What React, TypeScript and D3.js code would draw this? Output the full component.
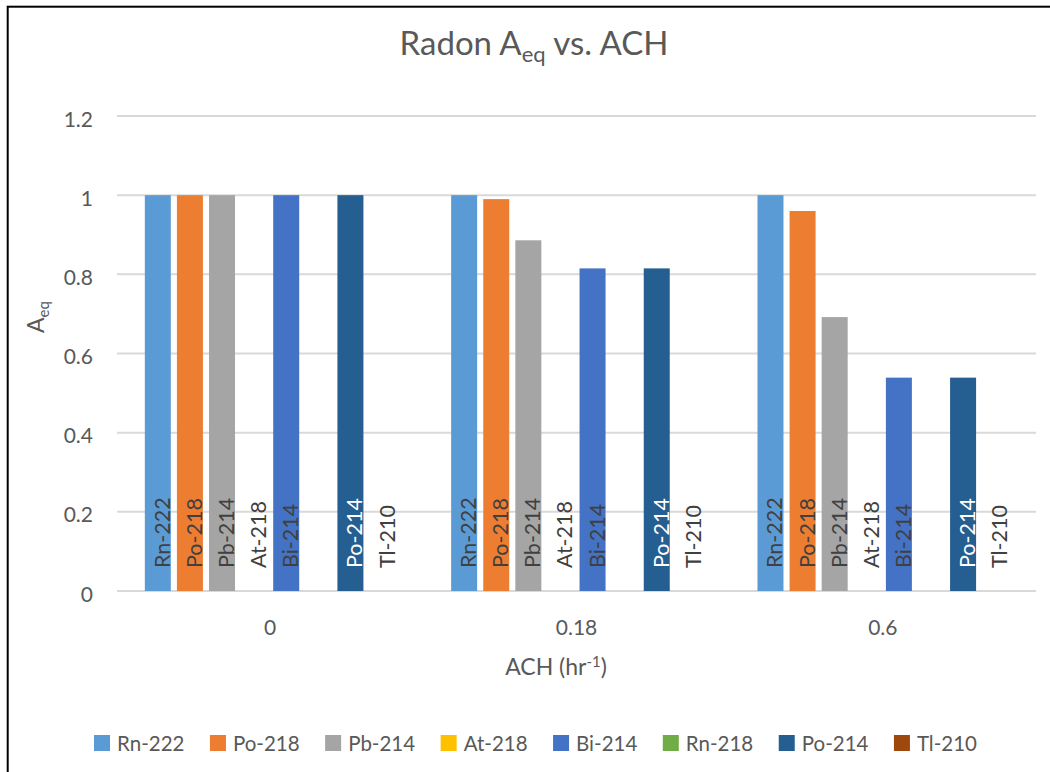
import React, { useEffect, useRef } from "react";
import * as d3 from "d3";

const categories = ["0", "0.18", "0.6"];
const seriesNames = ["Rn-222", "Po-218", "Pb-214", "At-218", "Bi-214", "Rn-218", "Po-214", "Tl-210"];
const seriesColors = ["#5B9BD5", "#ED7D31", "#A5A5A5", "#FFC000", "#4472C4", "#70AD47", "#255E91", "#9E480E"];
const rn222 = [1, 1, 1];
const po218 = [1, 0.99, 0.96];
const pb214 = [1, 0.886, 0.692];
const at218 = [0, 0, 0];
const bi214 = [1, 0.815, 0.539];
const rn218 = [0, 0, 0];
const po214 = [1, 0.815, 0.539];
const tl210 = [0, 0, 0];
const seriesValues = [rn222, po218, pb214, at218, bi214, rn218, po214, tl210];
const showLabel = [true, true, true, true, true, false, true, true];
const labelColors = ["#404040", "#404040", "#404040", "#404040", "#404040", "#404040", "#FFFFFF", "#404040"];
const yTicks = [0, 0.2, 0.4, 0.6, 0.8, 1, 1.2];

const W = 1050;
const H = 772;
const FONT = "Lato, 'Open Sans', sans-serif";
const TEXT = "#595959";

export default function App() {
  const ref = useRef<SVGSVGElement | null>(null);

  useEffect(() => {
    const svg = d3.select(ref.current);
    svg.selectAll("*").remove();

    const left = 117, right = 1036, top = 116, bottom = 591;

    svg.append("rect").attr("x", 0).attr("y", 0).attr("width", W).attr("height", H).attr("fill", "#fff");
    // chart frame
    svg.append("rect").attr("x", 7.7).attr("y", 6.7).attr("width", W + 20).attr("height", H + 20)
      .attr("fill", "none").attr("stroke", "#000").attr("stroke-width", 2);

    const y = d3.scaleLinear().domain([0, 1.2]).range([bottom, top]);
    const x0 = d3.scaleBand<string>().domain(categories).range([left, right]).paddingInner(0.1816).paddingOuter(0.0908);
    const x1 = d3.scaleBand<string>().domain(seriesNames).range([0, x0.bandwidth()]).paddingInner(0.19).paddingOuter(0);

    // gridlines
    svg.append("g").selectAll("line").data(yTicks).join("line")
      .attr("x1", left).attr("x2", right)
      .attr("y1", (d) => y(d)).attr("y2", (d) => y(d))
      .attr("stroke", "#D9D9D9").attr("stroke-width", 2);

    // y tick labels
    svg.append("g").selectAll("text").data(yTicks).join("text")
      .attr("x", 93).attr("y", (d) => y(d) + 3).attr("dy", "0.36em")
      .attr("text-anchor", "end").attr("font-family", FONT).attr("font-size", 21).attr("fill", TEXT)
      .text((d) => d3.format("")(d));

    // bars
    const bars = svg.append("g");
    seriesNames.forEach((name, si) => {
      bars.append("g").selectAll("rect").data(seriesValues[si]).join("rect")
        .attr("x", (_d, ci) => (x0(categories[ci]) as number) + (x1(name) as number))
        .attr("y", (d) => y(d))
        .attr("width", x1.bandwidth())
        .attr("height", (d) => y(0) - y(d))
        .attr("fill", seriesColors[si]);
    });

    // bar labels
    const labels = svg.append("g");
    seriesNames.forEach((name, si) => {
      if (!showLabel[si]) return;
      labels.append("g").selectAll("text").data(seriesValues[si]).join("text")
        .attr("transform", (_d, ci) => {
          const cx = (x0(categories[ci]) as number) + (x1(name) as number) + x1.bandwidth() / 2;
          return `translate(${cx + 12},${y(0) - 23}) rotate(-90)`;
        })
        .attr("font-family", FONT).attr("font-size", 21.5).attr("fill", labelColors[si])
        .text(name);
    });

    // category labels
    svg.append("g").selectAll("text").data(categories).join("text")
      .attr("x", (d) => (x0(d) as number) + x0.bandwidth() / 2).attr("y", 635)
      .attr("text-anchor", "middle").attr("font-family", FONT).attr("font-size", 21).attr("fill", TEXT)
      .text((d) => d);

    // title
    const title = svg.append("text").attr("x", 534).attr("y", 55).attr("text-anchor", "middle")
      .attr("font-family", FONT).attr("font-size", 33).attr("fill", TEXT);
    title.append("tspan").text("Radon A");
    title.append("tspan").attr("font-size", 22).attr("dy", 7).text("eq");
    title.append("tspan").attr("dy", -7).text(" vs. ACH");

    // y axis title
    const yt = svg.append("text").attr("transform", `translate(44,317) rotate(-90)`).attr("text-anchor", "middle")
      .attr("font-family", FONT).attr("font-size", 23).attr("fill", TEXT);
    yt.append("tspan").text("A");
    yt.append("tspan").attr("font-size", 15).attr("dy", 5).text("eq");

    // x axis title
    const xt = svg.append("text").attr("x", 556).attr("y", 675).attr("text-anchor", "middle")
      .attr("font-family", FONT).attr("font-size", 23).attr("fill", TEXT);
    xt.append("tspan").text("ACH (hr");
    xt.append("tspan").attr("font-size", 15).attr("dy", -8).text("-1");
    xt.append("tspan").attr("dy", 8).text(")");

    // legend
    const legend = svg.append("g");
    const items: { g: d3.Selection<SVGGElement, unknown, null, undefined>; w: number }[] = [];
    seriesNames.forEach((name, si) => {
      const g = legend.append("g");
      g.append("rect").attr("x", 0).attr("y", -16).attr("width", 16).attr("height", 16).attr("fill", seriesColors[si]);
      const t = g.append("text").attr("x", 23).attr("y", 0).attr("font-family", FONT).attr("font-size", 20.5)
        .attr("fill", TEXT).text(name);
      const tw = (t.node() as SVGTextElement).getComputedTextLength();
      items.push({ g, w: 23 + tw });
    });
    const gap = 25.5;
    const total = items.reduce((s, it) => s + it.w, 0) + gap * (items.length - 1);
    let cx = 535.5 - total / 2;
    items.forEach((it) => {
      it.g.attr("transform", `translate(${cx},751)`);
      cx += it.w + gap;
    });
  }, []);

  return (
    <div style={{ position: "absolute", left: 0, top: 0, width: W, height: H, overflow: "hidden" }}>
      <svg ref={ref} width={W} height={H} style={{ display: "block" }} />
    </div>
  );
}
